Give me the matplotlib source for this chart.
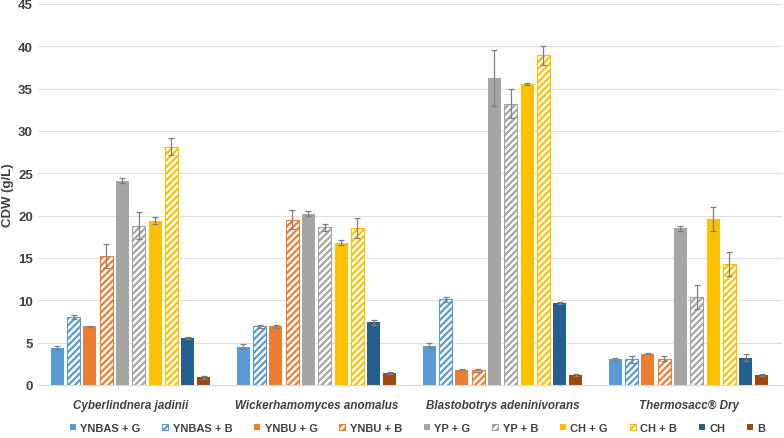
import matplotlib.pyplot as plt
import numpy as np

plt.rcParams['font.family'] = ['Liberation Sans Narrow', 'Liberation Sans', 'DejaVu Sans']
plt.rcParams['hatch.linewidth'] = 1.6

species = ['Cyberlindnera jadinii', 'Wickerhamomyces anomalus',
           'Blastobotrys adeninivorans', 'Thermosacc® Dry']
series = ['YNBAS + G', 'YNBAS + B', 'YNBU + G', 'YNBU + B', 'YP + G',
          'YP + B', 'CH + G', 'CH + B', 'CH', 'B']

# rows = series, columns = species
values = [
    [4.4, 4.5, 4.6, 3.0],
    [8.0, 6.9, 10.1, 3.0],
    [6.9, 6.9, 1.8, 3.7],
    [15.2, 19.5, 1.7, 3.1],
    [24.1, 20.2, 36.2, 18.5],
    [18.8, 18.6, 33.2, 10.4],
    [19.4, 16.8, 35.5, 19.6],
    [28.1, 18.5, 38.9, 14.3],
    [5.5, 7.4, 9.7, 3.2],
    [0.9, 1.4, 1.2, 1.2],
]
errors = [
    [0.2, 0.3, 0.3, 0.2],
    [0.2, 0.2, 0.3, 0.4],
    [0.1, 0.2, 0.1, 0.1],
    [1.4, 1.1, 0.2, 0.3],
    [0.3, 0.3, 3.3, 0.3],
    [1.6, 0.4, 1.7, 1.4],
    [0.4, 0.3, 0.1, 1.4],
    [1.0, 1.2, 1.1, 1.4],
    [0.1, 0.3, 0.1, 0.4],
    [0.2, 0.1, 0.1, 0.1],
]
colors = ['#5B9BD5', '#5B9BD5', '#ED7D31', '#ED7D31', '#A5A5A5',
          '#A5A5A5', '#FFC000', '#FFC000', '#255E91', '#9E480E']
hatched = [False, True, False, True, False, True, False, True, False, False]

fig = plt.figure(figsize=(7.84, 4.39), dpi=100)
ax = fig.add_axes([0.048, 0.121, 0.949, 0.868])

x = np.arange(len(species))
pitch = 0.0876
width = 0.07
for i, name in enumerate(series):
    pos = x + (i - 4.5) * pitch
    if hatched[i]:
        ax.bar(pos, values[i], width, color='white', edgecolor=colors[i],
               hatch='/////', linewidth=0.8, label=name, zorder=2)
    else:
        ax.bar(pos, values[i], width, color=colors[i], label=name, zorder=2)
    ax.errorbar(pos, values[i], yerr=errors[i], fmt='none', ecolor='#7F7F7F',
                elinewidth=0.9, capsize=2, capthick=0.9, zorder=3)

ax.set_xlim(-0.5, 3.5)
ax.set_ylim(0, 45)
ax.set_yticks(range(0, 46, 5))
ax.set_xticks(x)
ax.set_xticklabels(species, fontstyle='italic', fontweight='bold', fontsize=8.4)
ax.tick_params(axis='both', length=0, colors='#404040')
ax.tick_params(axis='x', pad=10)
for lab in ax.get_yticklabels():
    lab.set_fontweight('bold')
    lab.set_fontsize(9.5)
ax.grid(axis='y', color='#E0E0E0', linewidth=0.8, zorder=0)
ax.set_axisbelow(True)
for s in ['top', 'right', 'left']:
    ax.spines[s].set_visible(False)
ax.spines['bottom'].set_color('#D9D9D9')
ax.set_ylabel('CDW (g/L)', fontweight='bold', fontsize=9.5, color='#404040', labelpad=3)

leg = ax.legend(loc='upper left', bbox_to_anchor=(0.037, -0.088), ncol=10,
                frameon=False, handlelength=0.55, handleheight=0.55,
                handletextpad=0.4, columnspacing=1.95, borderaxespad=0,
                prop={'weight': 'bold', 'size': 8})
for t in leg.get_texts():
    t.set_color('#404040')

fig.savefig('out.png', dpi=100)
